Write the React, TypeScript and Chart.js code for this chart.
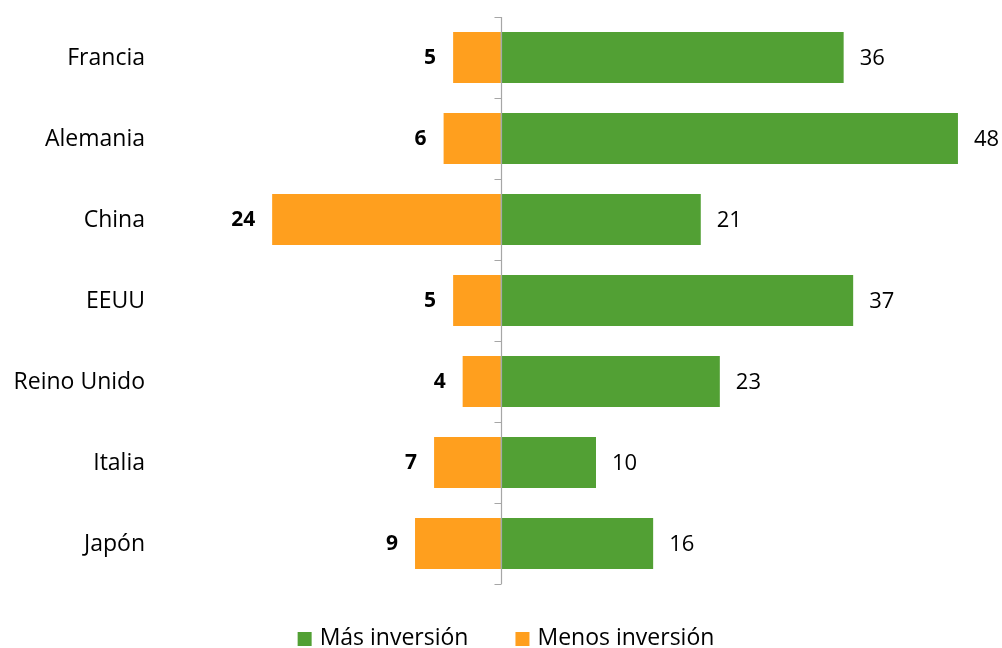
import React, { useEffect, useRef } from "react";
import { Chart, registerables } from "chart.js";

Chart.register(...registerables);

const categories = ["Francia", "Alemania", "China", "EEUU", "Reino Unido", "Italia", "Japón"];
const masInversion = [36, 48, 21, 37, 23, 10, 16];
const menosInversion = [5, 6, 24, 5, 4, 7, 9];
const seriesNames = ["Más inversión", "Menos inversión"];

const GREEN = "#52A034";
const ORANGE = "#FF9F1E";
const FONT = "'Open Sans', sans-serif";

const decorPlugin = {
  id: "decor",
  afterDatasetsDraw(chart: any) {
    const { ctx, scales } = chart;
    const x = scales.x;
    const y = scales.y;
    const area = chart.chartArea;
    const x0 = Math.round(x.getPixelForValue(0)) + 0.5;
    ctx.save();
    // axis line at zero with tick marks between categories
    ctx.strokeStyle = "#A6A6A6";
    ctx.lineWidth = 1.2;
    ctx.beginPath();
    ctx.moveTo(x0, area.top);
    ctx.lineTo(x0, area.bottom);
    const n = categories.length;
    const step = (area.bottom - area.top) / n;
    for (let i = 0; i <= n; i++) {
      const yy = Math.round(area.top + i * step) + 0.5;
      ctx.moveTo(x0 - 7, yy);
      ctx.lineTo(x0, yy);
    }
    ctx.stroke();

    // category labels
    ctx.fillStyle = "#000";
    ctx.font = `23px ${FONT}`;
    ctx.textAlign = "right";
    ctx.textBaseline = "middle";
    categories.forEach((c, i) => {
      ctx.fillText(c, 145, y.getPixelForTick(i) + 1);
    });

    // data labels
    chart.data.datasets.forEach((ds: any, di: number) => {
      const meta = chart.getDatasetMeta(di);
      meta.data.forEach((bar: any, i: number) => {
        const v = ds.data[i];
        ctx.textBaseline = "middle";
        ctx.fillStyle = "#000";
        if (v >= 0) {
          ctx.font = `22px ${FONT}`;
          ctx.textAlign = "left";
          ctx.fillText(String(Math.abs(v)), bar.x + 16, bar.y + 1);
        } else {
          ctx.font = `bold 21px ${FONT}`;
          ctx.textAlign = "right";
          ctx.fillText(String(Math.abs(v)), bar.x - 17, bar.y + 1);
        }
      });
    });

    // legend
    ctx.font = `23px ${FONT}`;
    ctx.textAlign = "left";
    const box = 14;
    const gapText = 8;
    const gapItem = 47;
    const items = chart.data.datasets.map((ds: any) => ({
      label: ds.label,
      color: ds.backgroundColor,
      w: ctx.measureText(ds.label).width,
    }));
    const total = items.reduce((s: number, it: any) => s + box + gapText + it.w, 0) + gapItem * (items.length - 1);
    let lx = 506 - total / 2;
    const ly = 638;
    items.forEach((it: any) => {
      ctx.fillStyle = it.color;
      ctx.fillRect(lx, ly - 6, box, box);
      ctx.fillStyle = "#000";
      ctx.fillText(it.label, lx + box + gapText, ly);
      lx += box + gapText + it.w + gapItem;
    });
    ctx.restore();
  },
};

export default function App() {
  const ref = useRef<HTMLCanvasElement | null>(null);
  useEffect(() => {
    if (!ref.current) return;
    const chart = new Chart(ref.current, {
      type: "bar",
      data: {
        labels: categories,
        datasets: [
          {
            label: seriesNames[0],
            data: masInversion,
            backgroundColor: GREEN,
            barPercentage: 0.63,
            categoryPercentage: 1,
          },
          {
            label: seriesNames[1],
            data: menosInversion.map((v) => -v),
            backgroundColor: ORANGE,
            barPercentage: 0.63,
            categoryPercentage: 1,
          },
        ],
      },
      options: {
        indexAxis: "y",
        animation: false,
        responsive: false,
        maintainAspectRatio: false,
        layout: { padding: { top: 17, right: 25, left: 0, bottom: 64 } },
        scales: {
          x: {
            display: false,
            stacked: true,
            min: -30,
            max: 50,
          },
          y: {
            stacked: true,
            grid: { display: false, drawTicks: false },
            border: { display: false },
            ticks: { display: false, padding: 0 },
            afterFit(scale: any) {
              scale.width = 215;
            },
          },
        },
        plugins: {
          legend: { display: false },
          tooltip: { enabled: false },
        },
      },
      plugins: [decorPlugin],
    });
    return () => chart.destroy();
  }, []);
  return (
    <div style={{ position: "absolute", left: 0, top: 0, width: 1002, height: 648, background: "#fff" }}>
      <canvas ref={ref} width={1002} height={648} style={{ width: 1002, height: 648 }} />
    </div>
  );
}
